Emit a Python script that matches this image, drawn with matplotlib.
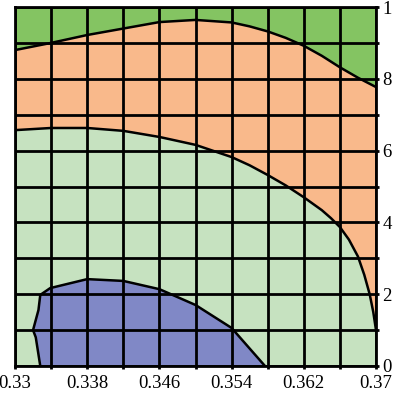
import matplotlib
matplotlib.use('Agg')
import matplotlib.pyplot as plt
import numpy as np

plt.rcParams['font.family'] = 'Liberation Serif'

# tick labels
x_major = [0.33, 0.338, 0.346, 0.354, 0.362, 0.37]
x_labels = ['0.33', '0.338', '0.346', '0.354', '0.362', '0.37']
y_major = [0.0, 0.2, 0.4, 0.6, 0.8, 1.0]
y_labels = ['0', '2', '4', '6', '8', '1']

# boundary between top green and orange band
upper_x = [0.330, 0.334, 0.338, 0.342, 0.346, 0.350, 0.354, 0.356, 0.358, 0.360, 0.362, 0.364, 0.366, 0.368, 0.370]
upper_y = [0.880, 0.900, 0.922, 0.940, 0.958, 0.964, 0.957, 0.946, 0.932, 0.914, 0.892, 0.864, 0.832, 0.803, 0.777]

# boundary between orange band and light green
mid_x = [0.330, 0.334, 0.338, 0.342, 0.346, 0.350, 0.354, 0.356, 0.358, 0.360, 0.362, 0.364, 0.365, 0.366, 0.367, 0.368, 0.3687, 0.3693, 0.3697, 0.3700]
mid_y = [0.657, 0.663, 0.663, 0.655, 0.638, 0.616, 0.582, 0.559, 0.532, 0.503, 0.470, 0.434, 0.412, 0.387, 0.352, 0.305, 0.254, 0.200, 0.150, 0.100]

# blue region outline (bottom left)
blue_x = [0.3328, 0.3323, 0.3320, 0.3326, 0.3328, 0.3339, 0.338, 0.342, 0.346, 0.350, 0.354, 0.3577]
blue_y = [0.000, 0.080, 0.100, 0.156, 0.198, 0.217, 0.242, 0.237, 0.214, 0.170, 0.106, 0.000]

c_top = '#84c462'
c_orange = '#f9b98b'
c_light = '#c6e2c0'
c_blue = '#8088c6'

xmin, xmax, ymin, ymax = 0.33, 0.37, 0.0, 1.0

fig = plt.figure(figsize=(3.94, 3.94), dpi=100)
ax = fig.add_axes([15/394, 28/394, 361/394, 359/394])
ax.set_facecolor(c_light)

# orange band: mid curve, right edge, upper curve back
ox = mid_x + [xmax] + upper_x[::-1]
oy = mid_y + [upper_y[-1]] + upper_y[::-1]
ax.fill(ox, oy, color=c_orange, lw=0, zorder=0)

# top green
gx = upper_x + [xmax, xmin]
gy = upper_y + [ymax, ymax]
ax.fill(gx, gy, color=c_top, lw=0, zorder=0)

# blue
ax.fill(blue_x, blue_y, color=c_blue, lw=0, zorder=0)

# contour lines
lw = 1.8
ax.plot(upper_x, upper_y, color='black', lw=lw, zorder=3)
ax.plot(mid_x, mid_y, color='black', lw=lw, zorder=3)
ax.plot(blue_x, blue_y, color='black', lw=lw, zorder=3)

ax.set_xlim(xmin, xmax)
ax.set_ylim(ymin, ymax)

ax.set_xticks(x_major)
ax.set_xticklabels(x_labels)
ax.set_xticks(np.arange(0.33, 0.3701, 0.004), minor=True)
ax.set_yticks(y_major)
ax.set_yticklabels(y_labels)
ax.set_yticks(np.arange(0, 1.01, 0.1), minor=True)
ax.yaxis.tick_right()

ax.grid(True, which='both', color='black', lw=2.0, zorder=2)
ax.set_axisbelow(False)

ax.tick_params(which='both', direction='out', length=2.5, width=2.0, color='black', labelsize=13.5)
ax.tick_params(axis='x', which='both', pad=4)
ax.tick_params(axis='y', which='both', pad=2)

for s in ax.spines.values():
    s.set_color('black')
    s.set_linewidth(2.0)

fig.savefig('out.png', dpi=100)
